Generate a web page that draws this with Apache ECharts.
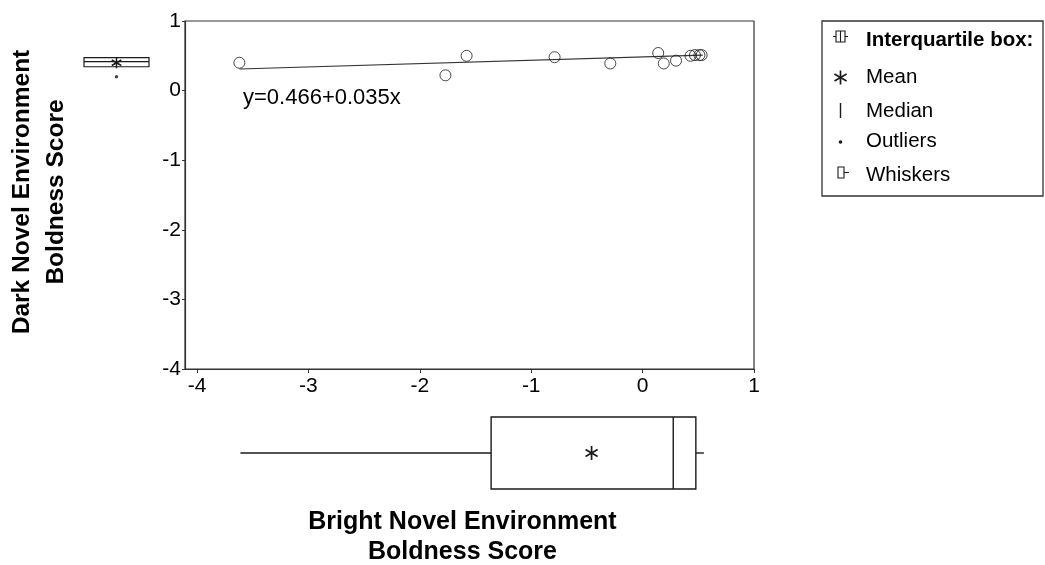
<!DOCTYPE html>
<html><head><meta charset="utf-8">
<script src="https://cdn.jsdelivr.net/npm/echarts@6/dist/echarts.min.js"></script>
<style>html,body{margin:0;padding:0;background:#fff}#c{width:1045px;height:565px}</style>
</head><body><div id="c"></div>
<script>
// ---- data ----
const brightScores = [-3.62, -1.77, -1.58, -0.79, -0.29, 0.14, 0.19, 0.30, 0.43, 0.47, 0.51, 0.53];
const darkScores   = [0.40, 0.22, 0.50, 0.48, 0.39, 0.54, 0.39, 0.43, 0.50, 0.51, 0.51, 0.51];
const fitLineX = [-3.62, 0.54];
const fitLineY = [0.31, 0.51];
const fitEquation = 'y=0.466+0.035x';
const xTickValues = [-4, -3, -2, -1, 0, 1];
const yTickValues = [1, 0, -1, -2, -3, -4];
// box stats: [low whisker, Q1, median, Q3, high whisker, mean]
const brightBox = [-3.61, -1.36, 0.275, 0.478, 0.55, -0.458];
const darkBox   = [0.343, 0.343, 0.415, 0.473, 0.473, 0.40];
const darkOutliers = [0.20];
const legendLabels = ['Interquartile box:', 'Mean', 'Median', 'Outliers', 'Whiskers'];
const xTitle = ['Bright Novel Environment', 'Boldness Score'];
const yTitle = ['Dark Novel Environment', 'Boldness Score'];

const FONT = "'Liberation Sans', Arial, Helvetica, sans-serif";
const INK = '#1a1a1a';
const chart = echarts.init(document.getElementById('c'), null, {renderer: 'canvas'});

function star(cx, cy, r, lw) {
  const a = Math.PI / 6;
  const dirs = [[0, 1], [Math.cos(a), Math.sin(a)], [Math.cos(a), -Math.sin(a)]];
  return dirs.map(d => ({
    type: 'line',
    shape: {x1: cx - d[0] * r, y1: cy - d[1] * r, x2: cx + d[0] * r, y2: cy + d[1] * r},
    style: {stroke: INK, lineWidth: lw}
  }));
}

const pairs = brightScores.map((x, i) => [x, darkScores[i]]);
const XMIN = -4.108, XMAX = 1;

const option = {
  animation: false,
  backgroundColor: '#fff',
  textStyle: {fontFamily: FONT},
  grid: [
    {left: 185, top: 21, width: 569, height: 348, show: true, borderColor: '#333', borderWidth: 1.2, backgroundColor: 'transparent'},
    {left: 185, top: 417, width: 569, height: 72},
    {left: 84, top: 21, width: 65, height: 348}
  ],
  xAxis: [
    {type: 'value', gridIndex: 0, min: XMIN, max: XMAX,
      axisLine: {show: true, onZero: false, lineStyle: {color: '#333', width: 1.2}},
      axisTick: {show: true, length: 4, customValues: xTickValues, lineStyle: {color: '#333'}},
      axisLabel: {customValues: xTickValues, color: '#000', fontSize: 21, fontFamily: FONT, margin: 7,
        formatter: v => String(Math.round(v))},
      splitLine: {show: false}},
    {type: 'value', gridIndex: 1, min: XMIN, max: XMAX, show: false},
    {type: 'category', gridIndex: 2, data: ['Dark'], show: false}
  ],
  yAxis: [
    {type: 'value', gridIndex: 0, min: -4, max: 1, interval: 1,
      axisLine: {show: true, onZero: false, lineStyle: {color: '#333', width: 1.2}},
      axisTick: {show: true, length: 3, lineStyle: {color: '#333'}},
      axisLabel: {color: '#000', fontSize: 21, fontFamily: FONT, margin: 4},
      splitLine: {show: false}},
    {type: 'category', gridIndex: 1, data: ['Bright'], show: false},
    {type: 'value', gridIndex: 2, min: -4, max: 1, show: false}
  ],
  series: [
    {type: 'line', xAxisIndex: 0, yAxisIndex: 0, data: fitLineX.map((x, i) => [x, fitLineY[i]]),
      showSymbol: false, lineStyle: {color: '#333', width: 1.2}, z: 2},
    {type: 'scatter', xAxisIndex: 0, yAxisIndex: 0, data: pairs, symbol: 'circle', symbolSize: 11,
      itemStyle: {color: 'rgba(0,0,0,0)', borderColor: INK, borderWidth: 1}, z: 3},
    {type: 'custom', xAxisIndex: 1, yAxisIndex: 1,
      data: [[0].concat(brightBox)],
      encode: {y: 0, x: [1, 2, 3, 4, 5, 6]},
      renderItem: function (params, api) {
        const y = api.coord([api.value(1), 0])[1];
        const h = api.size([0, 1])[1];
        const xs = [1, 2, 3, 4, 5, 6].map(i => api.coord([api.value(i), 0])[0]);
        const top = y - h / 2;
        const st = {stroke: INK, lineWidth: 1.4};
        return {type: 'group', children: [
          {type: 'line', shape: {x1: xs[0], y1: y, x2: xs[1], y2: y}, style: st},
          {type: 'line', shape: {x1: xs[3], y1: y, x2: xs[4], y2: y}, style: st},
          {type: 'rect', shape: {x: xs[1], y: top, width: xs[3] - xs[1], height: h}, style: {stroke: INK, lineWidth: 1.4, fill: '#fff'}},
          {type: 'line', shape: {x1: xs[2], y1: top, x2: xs[2], y2: top + h}, style: st}
        ].concat(star(xs[5], y, 7, 1.7))};
      }},
    {type: 'custom', xAxisIndex: 2, yAxisIndex: 2,
      data: [[0].concat(darkBox)],
      encode: {x: 0, y: [1, 2, 3, 4, 5, 6]},
      renderItem: function (params, api) {
        const x = api.coord([0, api.value(1)])[0];
        const w = api.size([1, 0])[0];
        const ys = [1, 2, 3, 4, 5, 6].map(i => api.coord([0, api.value(i)])[1]);
        const left = x - w / 2;
        const st = {stroke: INK, lineWidth: 1.2};
        return {type: 'group', children: [
          {type: 'line', shape: {x1: x, y1: ys[0], x2: x, y2: ys[1]}, style: st},
          {type: 'line', shape: {x1: x, y1: ys[3], x2: x, y2: ys[4]}, style: st},
          {type: 'rect', shape: {x: left, y: ys[3], width: w, height: ys[1] - ys[3]}, style: {stroke: INK, lineWidth: 1.2, fill: '#fff'}},
          {type: 'line', shape: {x1: left, y1: ys[2], x2: left + w, y2: ys[2]}, style: st}
        ].concat(star(x, ys[5], 5.5, 1.5))};
      }},
    {type: 'scatter', xAxisIndex: 2, yAxisIndex: 2, data: darkOutliers.map(v => [0, v]),
      symbol: 'circle', symbolSize: 3.5, itemStyle: {color: INK}}
  ],
  graphic: [
    // regression equation
    {type: 'text', left: 243, top: 87, style: {text: fitEquation, font: '22px ' + FONT, fill: '#000'}},
    // axis titles
    {type: 'text', x: 462.5, y: 522, style: {text: xTitle[0], font: 'bold 25px ' + FONT, fill: '#000', align: 'center', verticalAlign: 'middle'}},
    {type: 'text', x: 462.5, y: 552, style: {text: xTitle[1], font: 'bold 25px ' + FONT, fill: '#000', align: 'center', verticalAlign: 'middle'}},
    {type: 'text', x: 22, y: 192, rotation: Math.PI / 2, style: {text: yTitle[0], font: 'bold 24.5px ' + FONT, fill: '#000', align: 'center', verticalAlign: 'middle'}},
    {type: 'text', x: 56, y: 192, rotation: Math.PI / 2, style: {text: yTitle[1], font: 'bold 24.5px ' + FONT, fill: '#000', align: 'center', verticalAlign: 'middle'}},
    // legend box
    {type: 'rect', shape: {x: 822, y: 21, width: 221, height: 175}, style: {stroke: '#333', lineWidth: 1.3, fill: '#fff'}},
    // icon 1: interquartile box
    {type: 'rect', shape: {x: 836, y: 31, width: 9, height: 11}, style: {stroke: INK, lineWidth: 1.1, fill: '#fff'}},
    {type: 'line', shape: {x1: 840.5, y1: 31, x2: 840.5, y2: 42}, style: {stroke: INK, lineWidth: 1.1}},
    {type: 'line', shape: {x1: 833, y1: 36.5, x2: 836, y2: 36.5}, style: {stroke: INK, lineWidth: 1.1}},
    {type: 'line', shape: {x1: 845, y1: 36.5, x2: 848, y2: 36.5}, style: {stroke: INK, lineWidth: 1.1}},
    // icon 2: mean star
    {type: 'group', children: star(840.5, 77.5, 7, 1.7)},
    // icon 3: median
    {type: 'line', shape: {x1: 840.5, y1: 103, x2: 840.5, y2: 118}, style: {stroke: INK, lineWidth: 1.4}},
    // icon 4: outlier dot
    {type: 'circle', shape: {cx: 840.5, cy: 142, r: 1.8}, style: {fill: INK}},
    // icon 5: whiskers
    {type: 'rect', shape: {x: 838, y: 167, width: 6, height: 11}, style: {stroke: INK, lineWidth: 1.1, fill: '#fff'}},
    {type: 'line', shape: {x1: 844, y1: 172.5, x2: 849, y2: 172.5}, style: {stroke: INK, lineWidth: 1.1}},
    // legend texts
    {type: 'text', x: 866, y: 40, style: {text: legendLabels[0], font: 'bold 20.5px ' + FONT, fill: '#000', verticalAlign: 'middle'}},
    {type: 'text', x: 866, y: 77.5, style: {text: legendLabels[1], font: '20.5px ' + FONT, fill: '#000', verticalAlign: 'middle'}},
    {type: 'text', x: 866, y: 111.5, style: {text: legendLabels[2], font: '20.5px ' + FONT, fill: '#000', verticalAlign: 'middle'}},
    {type: 'text', x: 866, y: 141.5, style: {text: legendLabels[3], font: '20.5px ' + FONT, fill: '#000', verticalAlign: 'middle'}},
    {type: 'text', x: 866, y: 175, style: {text: legendLabels[4], font: '20.5px ' + FONT, fill: '#000', verticalAlign: 'middle'}}
  ]
};
chart.setOption(option);
</script>
</body></html>
